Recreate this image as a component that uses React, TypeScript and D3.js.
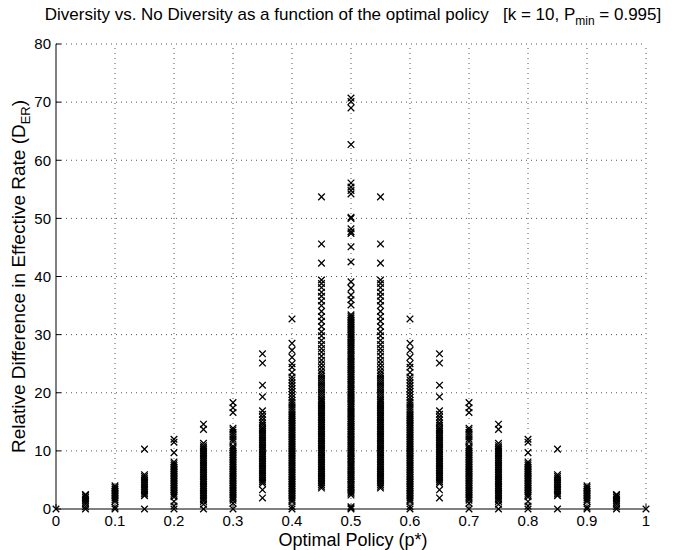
import React from 'react';
import * as d3 from 'd3';

// Optimal policy values (x positions of the columns)
const policies = [0, 0.05, 0.1, 0.15, 0.2, 0.25, 0.3, 0.35, 0.4, 0.45, 0.5, 0.55, 0.6, 0.65, 0.7, 0.75, 0.8, 0.85, 0.9, 0.95, 1];

// Relative difference in effective rate, one list per policy column
const d000 = [0];
const d005 = [0, 0.4, 0.8, 1.1, 1.4, 1.7, 2.0, 2.3, 2.5];
const d010 = [0, 0.3, 1.3, 1.6, 1.9, 2.2, 2.5, 2.8, 3.1, 3.4, 3.7, 4.0];
const d015 = [0, 2.3, 2.6, 2.9, 3.2, 3.5, 3.8, 4.1, 4.4, 4.7, 5.0, 5.3, 5.6, 5.9, 10.3];
const d020 = [0, 0.5, 1.3, 2.1, 2.4, 2.7, 3.0, 3.3, 3.6, 3.9, 4.2, 4.5, 4.8, 5.1, 5.4, 5.7, 6.0, 6.3, 6.6, 6.9, 7.2, 7.5, 7.8, 8.1, 9.7, 11.5, 12.0];
const d025 = [0, 0.8, 1.3, 1.6, 1.9, 2.2, 2.5, 2.8, 3.1, 3.4, 3.7, 4.0, 4.3, 4.6, 4.9, 5.2, 5.5, 5.8, 6.1, 6.4, 6.7, 7.0, 7.3, 7.6, 7.9, 8.2, 8.5, 8.8, 9.1, 9.4, 9.7, 10.0, 10.3, 10.6, 10.9, 11.3, 13.7, 14.6];
const d030 = [0, 1.0, 1.5, 1.8, 2.1, 2.4, 2.7, 3.0, 3.3, 3.6, 3.9, 4.2, 4.5, 4.8, 5.1, 5.4, 5.7, 6.0, 6.3, 6.6, 6.9, 7.2, 7.5, 7.8, 8.1, 8.4, 8.7, 9.0, 9.3, 9.6, 9.9, 10.2, 10.5, 10.8, 11.6, 12.0, 12.4, 12.8, 13.2, 13.6, 13.9, 16.6, 17.4, 18.3];
const d035 = [1.9, 3.3, 4.4, 4.7, 5.0, 5.3, 5.6, 5.9, 6.2, 6.5, 6.8, 7.1, 7.4, 7.7, 8.0, 8.3, 8.6, 8.9, 9.2, 9.5, 9.8, 10.1, 10.4, 10.7, 11.0, 11.3, 11.6, 11.9, 12.2, 12.5, 12.8, 13.1, 13.4, 13.7, 14.0, 14.4, 14.8, 15.3, 15.8, 16.3, 16.9, 19.3, 21.3, 25.1, 26.7];
const d040 = [0, 0.4, 1.3, 1.6, 1.9, 2.2, 2.5, 2.8, 3.1, 3.4, 3.7, 4.0, 4.3, 4.6, 4.9, 5.2, 5.5, 5.8, 6.1, 6.4, 6.7, 7.0, 7.3, 7.6, 7.9, 8.2, 8.5, 8.8, 9.1, 9.4, 9.7, 10.0, 10.3, 10.6, 10.9, 11.2, 11.5, 11.8, 12.1, 12.4, 12.7, 13.0, 13.3, 13.6, 13.9, 14.2, 14.5, 14.8, 15.1, 15.4, 15.7, 16.0, 16.3, 16.7, 17.1, 17.5, 17.9, 18.3, 18.7, 19.2, 19.7, 20.2, 20.7, 21.2, 21.7, 22.2, 22.7, 23.5, 24.4, 25.0, 26.1, 27.3, 28.5, 32.7];
const d045 = [3.6, 3.9, 4.2, 4.5, 4.8, 5.1, 5.4, 5.7, 6.0, 6.3, 6.6, 6.9, 7.2, 7.5, 7.8, 8.1, 8.4, 8.7, 9.0, 9.3, 9.6, 9.9, 10.2, 10.5, 10.8, 11.1, 11.4, 11.7, 12.0, 12.3, 12.6, 12.9, 13.2, 13.5, 13.8, 14.1, 14.4, 14.7, 15.0, 15.3, 15.6, 15.9, 16.2, 16.5, 16.8, 17.1, 17.4, 17.7, 18.0, 18.3, 18.6, 18.9, 19.3, 19.7, 20.1, 20.5, 20.9, 21.3, 21.7, 22.1, 22.5, 22.9, 23.3, 23.8, 24.4, 25.0, 25.6, 26.3, 27.0, 27.6, 28.3, 29.0, 29.8, 30.5, 31.4, 32.3, 33.1, 34.0, 35.0, 35.8, 36.6, 37.3, 38.1, 38.8, 39.4, 42.3, 45.6, 53.7];
const d050 = [0, 0.2, 0.4, 2.4, 2.7, 2.9, 3.2, 3.5, 3.8, 4.1, 4.3, 4.6, 4.9, 5.2, 5.5, 5.8, 6.0, 6.3, 6.6, 6.9, 7.2, 7.5, 7.7, 8.0, 8.3, 8.6, 8.9, 9.2, 9.5, 9.7, 10.0, 10.3, 10.6, 10.9, 11.2, 11.5, 11.8, 12.0, 12.3, 12.6, 12.9, 13.2, 13.5, 13.8, 14.1, 14.3, 14.6, 14.9, 15.2, 15.5, 15.8, 16.1, 16.4, 16.6, 16.9, 17.2, 17.5, 17.8, 18.1, 18.4, 18.7, 19.0, 19.2, 19.5, 19.8, 20.1, 20.4, 20.7, 21.0, 21.3, 21.5, 21.8, 22.1, 22.4, 22.7, 23.0, 23.3, 23.6, 23.9, 24.1, 24.4, 24.7, 25.0, 25.3, 25.6, 25.9, 26.2, 26.4, 26.7, 27.0, 27.3, 27.6, 27.9, 28.2, 28.5, 28.7, 29.0, 29.3, 29.6, 29.9, 30.2, 30.5, 30.8, 31.0, 31.3, 31.6, 31.9, 32.2, 32.5, 32.8, 33.1, 33.4, 35.1, 36.0, 36.8, 38.0, 39.1, 42.5, 45.1, 47.4, 47.7, 48.2, 50.0, 50.2, 54.2, 54.8, 55.4, 56.1, 62.7, 69.0, 70.1, 70.7];
// the figure is symmetric about p* = 0.5
const d055 = d045;
const d060 = d040;
const d065 = d035;
const d070 = d030;
const d075 = d025;
const d080 = d020;
const d085 = d015;
const d090 = d010;
const d095 = d005;
const d100 = d000;

const columns = [d000, d005, d010, d015, d020, d025, d030, d035, d040, d045, d050, d055, d060, d065, d070, d075, d080, d085, d090, d095, d100];

const xTicks = [0, 0.1, 0.2, 0.3, 0.4, 0.5, 0.6, 0.7, 0.8, 0.9, 1];
const xTickLabels = ['0', '0.1', '0.2', '0.3', '0.4', '0.5', '0.6', '0.7', '0.8', '0.9', '1'];
const yTicks = [0, 10, 20, 30, 40, 50, 60, 70, 80];

const FONT = "'Liberation Sans', Arial, Helvetica, sans-serif";

export default function App() {
  const W = 679;
  const H = 550;
  const x = d3.scaleLinear().domain([0, 1]).range([56, 646]);
  const y = d3.scaleLinear().domain([0, 80]).range([509, 44]);
  const [x0, x1] = x.range();
  const [y0, y1] = y.range();
  const s = 3.3;
  const cross = `M${-s},${-s}L${s},${s}M${-s},${s}L${s},${-s}`;

  const points: { p: number; v: number }[] = [];
  columns.forEach((vals, i) => vals.forEach(v => points.push({ p: policies[i], v })));

  return (
    <svg width={W} height={H} style={{ position: 'absolute', left: 0, top: 0, background: '#fff' }} fontFamily={FONT}>
      <rect width={W} height={H} fill="#fff" />
      {/* grid */}
      {yTicks.filter(t => t > 0).map(t => (
        <line key={'gy' + t} x1={x0} x2={x1} y1={y(t)} y2={y(t)} stroke="#555" strokeWidth={1} strokeDasharray="1 4" />
      ))}
      {xTicks.filter(t => t > 0).map(t => (
        <line key={'gx' + t} x1={x(t)} x2={x(t)} y1={y0} y2={y1} stroke="#555" strokeWidth={1} strokeDasharray="1 4" />
      ))}
      {/* markers */}
      {points.map((d, i) => (
        <path key={i} d={cross} transform={`translate(${x(d.p)},${y(d.v)})`} stroke="#000" strokeWidth={1.3} fill="none" />
      ))}
      {/* axes */}
      <line x1={x0} x2={x0} y1={y0} y2={y1} stroke="#000" strokeWidth={1} />
      <line x1={x0} x2={x1} y1={y0} y2={y0} stroke="#000" strokeWidth={1} />
      {yTicks.map(t => (
        <g key={'ty' + t}>
          <line x1={x0} x2={x0 + 5} y1={y(t)} y2={y(t)} stroke="#000" />
          <text x={x0 - 5} y={y(t)} dy="0.35em" textAnchor="end" fontSize={15}>{t}</text>
        </g>
      ))}
      {xTicks.map((t, i) => (
        <g key={'tx' + t}>
          <line x1={x(t)} x2={x(t)} y1={y0} y2={y0 - 5} stroke="#000" />
          <text x={x(t)} y={y0 + 17} textAnchor="middle" fontSize={15}>{xTickLabels[i]}</text>
        </g>
      ))}
      {/* title */}
      <text x={353} y={20} textAnchor="middle" fontSize={17}>
        <tspan>Diversity vs. No Diversity as a function of the optimal policy</tspan>
        <tspan xmlSpace="preserve">{'   [k = 10, P'}</tspan>
        <tspan fontSize={12} dy={5}>min</tspan>
        <tspan dy={-5}>{' = 0.995]'}</tspan>
      </text>
      {/* x label */}
      <text x={353} y={546} textAnchor="middle" fontSize={18}>Optimal Policy (p*)</text>
      {/* y label */}
      <text transform={`translate(25,${(y0 + y1) / 2}) rotate(-90)`} textAnchor="middle" fontSize={19}>
        <tspan>Relative Difference in Effective Rate (D</tspan>
        <tspan fontSize={13} dy={5}>ER</tspan>
        <tspan dy={-5}>)</tspan>
      </text>
    </svg>
  );
}
